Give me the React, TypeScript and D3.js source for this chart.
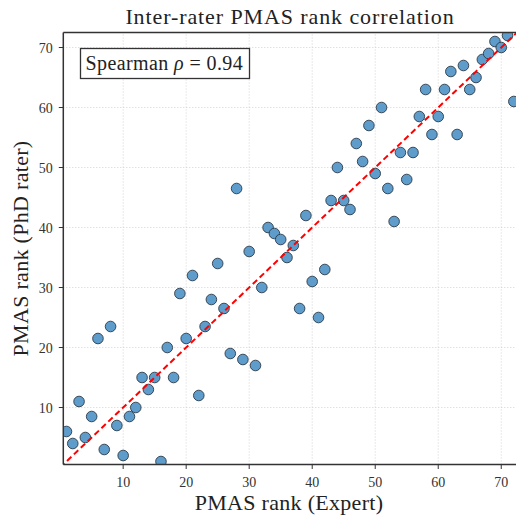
import React from 'react';
import * as d3 from 'd3';

// expert rank (x) vs PhD rater rank (y)
const expertRank = [
  1, 2, 3, 4, 5, 6, 7, 8, 9, 10, 11, 12, 13, 14, 15, 16, 17, 18, 19, 20, 21, 22, 23, 24,
  25, 26, 27, 28, 29, 30, 31, 32, 33, 34, 35, 36, 37, 38, 39, 40, 41, 42, 43, 44, 45, 46, 47, 48,
  49, 50, 51, 52, 53, 54, 55, 56, 57, 58, 59, 60, 61, 62, 63, 64, 65, 66, 67, 68, 69, 70, 71, 72,
];
const phdRank = [
  6, 4, 11, 5, 8.5, 21.5, 3, 23.5, 7, 2, 8.5, 10, 15, 13, 15, 1, 20, 15, 29, 21.5, 32, 12, 23.5, 28,
  34, 26.5, 19, 46.5, 18, 36, 17, 30, 40, 39, 38, 35, 37, 26.5, 42, 31, 25, 33, 44.5, 50, 44.5, 43, 54, 51,
  57, 49, 60, 46.5, 41, 52.5, 48, 52.5, 58.5, 63, 55.5, 58.5, 63, 66, 55.5, 67, 63, 65, 68, 69, 71, 70, 72, 61,
];
const tickValues = [10, 20, 30, 40, 50, 60, 70];
const rho = 0.94;

const W = 516;
const H = 515;
const font = '"Liberation Serif", "DejaVu Serif", serif';

export default function App() {
  const x = d3.scaleLinear().domain([0.5, 72.5]).range([63.3, 517]);
  const y = d3.scaleLinear().domain([0.5, 72.5]).range([464.5, 32.5]);
  const [x0, x1] = x.range();
  const [y0, y1] = y.range();

  const points = expertRank.map((e, i) => ({ e, p: phdRank[i] }));
  const diag = d3.line<number>().x(d => x(d)).y(d => y(d));

  return (
    <svg width={W} height={H} style={{ position: 'absolute', left: 0, top: 0, background: '#fff' }}>
      <defs>
        <clipPath id="plotArea">
          <rect x={x0} y={y1} width={x1 - x0} height={y0 - y1} />
        </clipPath>
      </defs>

      {/* grid */}
      <g stroke="#c8c8c8" strokeWidth={0.8} strokeDasharray="1,2">
        {tickValues.map(t => (
          <line key={'gx' + t} x1={x(t)} x2={x(t)} y1={y0} y2={y1} />
        ))}
        {tickValues.map(t => (
          <line key={'gy' + t} x1={x0} x2={x1} y1={y(t)} y2={y(t)} />
        ))}
      </g>

      <g clipPath="url(#plotArea)">
        {points.map((d, i) => (
          <circle
            key={i}
            cx={x(d.e)}
            cy={y(d.p)}
            r={5.3}
            fill="#5e9ccb"
            stroke="#2a3a48"
            strokeWidth={0.9}
          />
        ))}
        <path
          d={diag([0, 73]) || ''}
          fill="none"
          stroke="#ff0000"
          strokeWidth={2}
          strokeDasharray="6,3.5"
        />
      </g>

      {/* spines */}
      <g stroke="#333" strokeWidth={1.5} fill="none">
        <line x1={x0} x2={x1} y1={y0} y2={y0} />
        <line x1={x0} x2={x1} y1={y1} y2={y1} />
        <line x1={x0} x2={x0} y1={y0} y2={y1} />
        <line x1={x1} x2={x1} y1={y0} y2={y1} />
      </g>

      {/* ticks */}
      <g stroke="#333" strokeWidth={1}>
        {tickValues.map(t => (
          <line key={'tx' + t} x1={x(t)} x2={x(t)} y1={y0} y2={y0 + 4.5} />
        ))}
        {tickValues.map(t => (
          <line key={'ty' + t} x1={x0 - 4.5} x2={x0} y1={y(t)} y2={y(t)} />
        ))}
      </g>
      <g fontFamily={font} fontSize={14} fill="#333">
        {tickValues.map(t => (
          <text key={'lx' + t} x={x(t)} y={y0 + 22} textAnchor="middle">{t}</text>
        ))}
        {tickValues.map(t => (
          <text key={'ly' + t} x={x0 - 10.5} y={y(t) + 1} dy="0.35em" textAnchor="end">{t}</text>
        ))}
      </g>

      {/* annotation */}
      <rect x={80.5} y={48.5} width={169} height={30} fill="#fff" stroke="#333" strokeWidth={1.3} />
      <text x={85.5} y={69.5} fontFamily={font} fontSize={20} letterSpacing={0.4} fill="#222">
        Spearman <tspan fontStyle="italic">ρ</tspan> = {rho.toFixed(2)}
      </text>

      {/* labels */}
      <text x={290} y={24} textAnchor="middle" fontFamily={font} fontSize={22} letterSpacing={0.9} fill="#222">
        Inter-rater PMAS rank correlation
      </text>
      <text x={289} y={510} textAnchor="middle" fontFamily={font} fontSize={22} letterSpacing={0.3} fill="#222">
        PMAS rank (Expert)
      </text>
      <text
        transform={`translate(28,${(y0 + y1) / 2}) rotate(-90)`}
        textAnchor="middle"
        fontFamily={font}
        fontSize={22}
        letterSpacing={0.3}
        fill="#222"
      >
        PMAS rank (PhD rater)
      </text>
    </svg>
  );
}
